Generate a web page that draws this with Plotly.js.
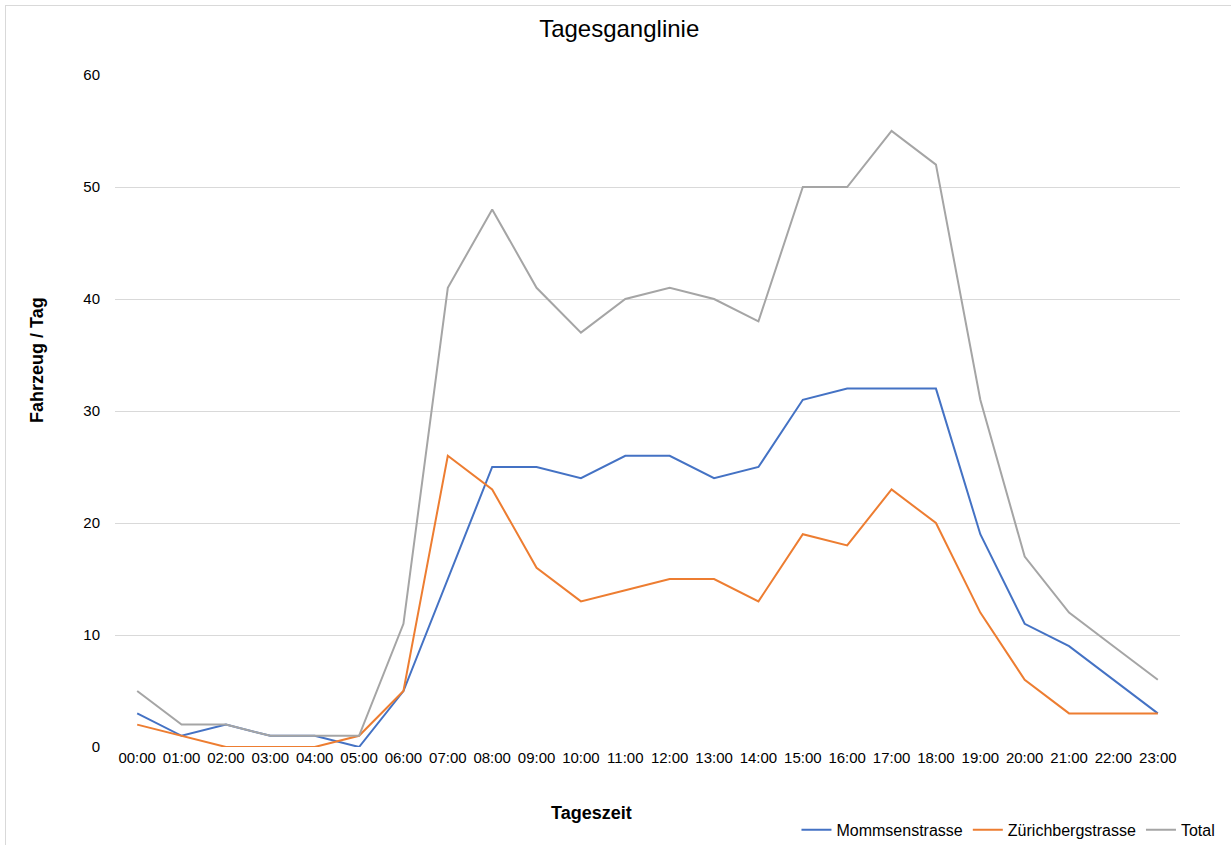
<!DOCTYPE html>
<html>
<head>
<meta charset="utf-8">
<script src="https://cdn.plot.ly/plotly-3.0.1.min.js"></script>
<style>
  body { margin: 0; background: #fff; }
  #chart { width: 1231px; height: 845px; }
  #frame { position: absolute; left: 5px; top: 5px; width: 1240px; height: 860px;
           border: 1px solid #d9d9d9; pointer-events: none; }
</style>
</head>
<body>
<div id="chart"></div>
<div id="frame"></div>
<script>
// Stunden des Tages
const hours = ['00:00','01:00','02:00','03:00','04:00','05:00','06:00','07:00','08:00','09:00','10:00','11:00',
               '12:00','13:00','14:00','15:00','16:00','17:00','18:00','19:00','20:00','21:00','22:00','23:00'];

// Fahrzeuge pro Stunde
const mommsen = [3,1,2,1,1,0,5,15,25,25,24,26,26,24,25,31,32,32,32,19,11,9,6,3];
const zuerichberg = [2,1,0,0,0,1,5,26,23,16,13,14,15,15,13,19,18,23,20,12,6,3,3,3];
const total = [5,2,2,1,1,1,11,41,48,41,37,40,41,40,38,50,50,55,52,31,17,12,9,6];

const yTicks = [0,10,20,30,40,50,60];

function series(name, y, color) {
  return {
    x: hours, y: y, name: name,
    type: 'scatter', mode: 'lines',
    line: { color: color, width: 2 },
    hoverinfo: 'x+y+name'
  };
}

const data = [
  series('Mommsenstrasse', mommsen, '#4472C4'),
  series('Zürichbergstrasse', zuerichberg, '#ED7D31'),
  series('Total', total, '#A5A5A5')
];

// Achsentitel wie in Excel auf die ganze Grafik zentriert -> als Annotationen
const annotations = [
  { text: '<b>Tageszeit</b>', xref: 'paper', yref: 'paper', x: 0.447, y: -0.098,
    xanchor: 'center', yanchor: 'middle', showarrow: false, font: { size: 18 } },
  { text: '<b>Fahrzeug / Tag</b>', xref: 'paper', yref: 'paper', x: -0.0732, y: 0.576,
    xanchor: 'center', yanchor: 'middle', textangle: -90, showarrow: false, font: { size: 18 } }
];

const layout = {
  width: 1231, height: 845,
  margin: { l: 115, r: 51, t: 75, b: 98 },
  paper_bgcolor: '#fff',
  plot_bgcolor: '#fff',
  font: { family: 'Liberation Sans, Arial, sans-serif', size: 15, color: '#000' },
  title: { text: 'Tagesganglinie', font: { size: 24, color: '#000' }, x: 0.503, xanchor: 'center', y: 0.966, yanchor: 'middle' },
  showlegend: true,
  legend: {
    orientation: 'h', x: 1.038, xanchor: 'right', yref: 'container', y: 0.018, yanchor: 'middle',
    font: { size: 16 }, itemwidth: 30, traceorder: 'normal'
  },
  annotations: annotations,
  xaxis: {
    type: 'category', range: [-0.5, 23.5], automargin: false,
    showgrid: false, zeroline: false, showline: false, ticks: '',
    tickfont: { size: 15 }
  },
  yaxis: {
    range: [0, 60], tickvals: yTicks, ticktext: yTicks.map(String), automargin: false,
    showgrid: true, gridcolor: '#d9d9d9', gridwidth: 1,
    zeroline: false, showline: false, ticks: '',
    tickfont: { size: 15 }, ticklabelstandoff: 14
  }
};

Plotly.newPlot('chart', data, layout, { displayModeBar: false });
</script>
</body>
</html>
